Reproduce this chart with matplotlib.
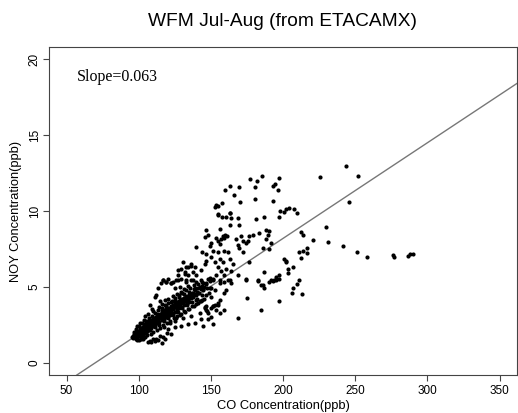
import numpy as np
import matplotlib
matplotlib.use("Agg")
from matplotlib import pyplot as plt

# dense diagonal band (CO ppb, NOY ppb)
core = [
    (95.2, 1.72), (95.8, 1.80), (96.3, 1.62), (96.6, 1.90), (97.0, 1.78), (97.4, 1.68),
    (97.9, 1.95), (98.2, 1.82), (98.6, 2.05), (98.9, 1.66), (99.3, 1.93), (99.7, 2.12),
    (100.1, 1.85), (100.4, 1.74), (100.8, 2.18), (101.0, 2.02), (101.3, 1.88), (101.7, 2.30),
    (102.0, 2.10), (102.4, 1.95), (102.7, 2.38), (103.1, 2.20), (103.3, 1.86), (103.7, 2.45),
    (104.0, 2.12), (104.4, 2.33), (104.6, 2.02), (105.0, 2.55), (105.3, 2.26), (105.7, 2.40),
    (106.0, 2.08), (106.3, 2.62), (106.7, 2.35), (107.0, 2.50), (107.3, 2.18), (107.7, 2.72),
    (108.0, 2.44), (108.4, 2.60), (108.7, 2.30), (109.0, 2.85), (109.4, 2.55), (109.8, 2.70),
    (110.1, 2.42), (110.5, 2.95), (110.8, 2.62), (111.2, 2.80), (111.5, 2.50), (111.9, 3.05),
    (112.2, 2.75), (112.6, 2.92), (112.9, 2.60), (113.3, 3.15), (113.6, 2.85), (114.0, 3.02),
    (114.3, 2.70), (114.7, 3.25), (115.0, 2.95), (115.4, 3.12), (115.8, 2.80), (116.2, 3.35),
    (116.5, 3.05), (116.9, 3.20), (117.3, 2.90), (117.6, 3.45), (118.0, 3.15), (118.4, 3.30),
    (118.7, 3.00), (119.1, 3.55), (119.5, 3.25), (119.9, 3.40), (120.2, 3.08), (120.6, 3.62),
    (121.0, 3.35), (121.3, 3.50), (121.7, 3.18), (122.1, 3.72), (122.5, 3.45), (122.8, 3.60),
    (123.2, 3.28), (123.6, 3.82), (124.0, 3.55), (124.4, 3.70), (124.8, 3.38), (125.2, 3.95),
    (125.6, 3.65), (126.0, 3.80), (126.4, 3.50), (126.8, 4.02), (127.2, 3.75), (127.6, 3.92),
    (128.0, 3.60), (128.4, 4.12), (128.8, 3.85), (129.2, 4.00), (129.6, 3.70), (130.0, 4.22),
    (130.4, 3.95), (130.9, 4.10), (131.3, 3.80), (131.7, 4.30), (132.2, 4.05), (132.6, 4.20),
    (133.1, 3.92), (133.5, 4.40), (134.0, 4.15), (134.5, 4.30), (135.0, 4.02), (135.5, 4.50),
    (136.0, 4.25), (136.6, 4.40), (137.2, 4.62), (137.8, 4.35), (138.5, 4.55), (139.1, 4.80),
    (139.8, 4.48), (140.5, 4.70), (141.2, 4.95), (142.0, 4.62), (142.8, 4.85), (143.6, 5.08),
    (144.5, 4.78), (145.4, 5.00), (146.3, 5.20), (147.2, 4.92),
    (96.9, 2.02), (98.1, 1.58), (99.5, 1.75), (100.9, 1.95), (102.2, 2.22), (103.5, 2.05),
    (104.8, 2.40), (106.1, 2.22), (107.5, 2.42), (108.9, 2.55), (110.3, 2.72), (111.6, 2.88),
    (113.0, 2.98), (114.4, 3.10), (115.9, 3.00), (117.1, 3.28), (118.6, 3.40), (120.0, 3.50),
    (121.5, 3.60), (123.0, 3.65), (124.6, 3.80), (126.2, 3.88), (127.9, 4.05), (129.5, 4.10),
    (131.1, 4.25), (132.8, 4.35), (134.6, 4.45),
]

# looser points that widen the band
spread = [
    (97.8, 2.25), (99.1, 1.48), (100.3, 2.42), (101.6, 1.60), (102.5, 2.62), (103.8, 1.72),
    (105.2, 2.78), (105.9, 1.85), (107.1, 2.95), (108.2, 1.90), (109.3, 3.10), (110.0, 2.05),
    (111.4, 3.28), (112.5, 2.15), (113.6, 3.45), (114.9, 2.30), (116.0, 3.62), (117.0, 2.48),
    (118.2, 3.78), (119.3, 2.62), (120.4, 3.95), (121.6, 2.78), (122.9, 4.10), (124.1, 2.95),
    (125.4, 4.28), (126.6, 3.10), (127.8, 4.45), (129.0, 3.25), (130.3, 4.60), (131.5, 3.42),
    (132.8, 4.78), (134.2, 3.58), (135.7, 4.92), (137.0, 3.72), (138.3, 5.10), (139.5, 3.90),
    (141.0, 5.22), (142.4, 4.05), (144.0, 5.35), (145.2, 4.20), (146.8, 4.45), (148.5, 4.60),
    (150.0, 4.95), (149.5, 5.60), (102.0, 1.78), (104.9, 1.95), (108.0, 2.15), (111.0, 2.35),
    (113.9, 2.52), (117.3, 2.75), (120.1, 2.95), (123.4, 3.15), (126.9, 3.38), (130.2, 3.60),
    (133.6, 3.80), (136.9, 4.00), (140.4, 4.22), (143.7, 4.45), (100.6, 2.28), (103.6, 2.55),
    (106.8, 2.82), (109.6, 2.98), (112.8, 3.25), (116.0, 3.50), (119.0, 3.72), (122.2, 3.98),
    (125.0, 4.15), (128.1, 4.35), (131.4, 4.55), (134.8, 4.70), (138.2, 4.88),
]

# scatter just above and below the band
around = [
    (99.0, 2.45), (101.2, 2.65), (103.9, 2.85), (104.1, 3.08), (107.6, 3.83), (109.9, 3.40),
    (111.0, 4.37), (112.2, 4.48), (118.0, 4.15), (106.5, 3.20), (109.0, 3.55), (113.8, 3.70),
    (116.0, 3.90), (120.5, 4.20), (123.5, 4.40), (126.5, 4.55), (129.0, 4.70), (131.5, 4.85),
    (134.0, 5.05), (114.5, 4.05),
    (100.5, 1.50), (102.8, 1.55), (104.3, 1.68), (106.2, 1.38), (107.6, 1.47), (108.8, 1.35),
    (110.2, 1.60), (111.5, 1.42), (112.2, 1.57), (113.1, 1.48), (114.6, 1.80), (116.3, 1.30),
    (116.8, 1.68), (118.0, 1.55), (119.5, 1.95), (122.6, 1.90), (120.3, 2.22), (124.9, 2.33),
    (129.5, 2.44), (134.1, 2.54), (138.7, 2.65), (143.3, 2.87), (147.9, 3.30), (124.9, 2.76),
    (130.6, 2.97), (136.4, 3.08), (142.2, 3.30), (146.8, 3.51), (151.4, 3.73), (154.8, 3.83),
    (151.4, 2.54), (144.5, 2.44), (117.5, 2.35), (121.5, 2.60), (126.0, 2.95), (128.5, 3.15),
    (132.0, 3.35), (135.0, 3.55), (138.0, 3.75), (141.0, 3.95), (144.0, 4.15),
]

# thin thread rising from the top of the band
thread = [
    (113.4, 4.91), (115.7, 5.23), (116.8, 5.45), (120.3, 5.55), (123.7, 5.34), (126.0, 5.45),
    (129.5, 5.55), (131.8, 5.88), (127.2, 6.09), (132.9, 6.30), (136.4, 6.41),
    (119.0, 5.33), (122.6, 5.23), (133.0, 5.34), (136.4, 5.44), (139.9, 5.34), (144.5, 5.23),
    (124.9, 4.91), (128.3, 5.01), (138.7, 4.91), (142.2, 5.01), (137.6, 4.58), (141.0, 4.58),
    (139.9, 4.15), (143.3, 4.05), (145.6, 3.62), (147.0, 3.40),
]

# lower branch and points right of the band
lower = [
    (147.9, 2.86), (150.2, 3.01), (156.0, 3.29), (159.4, 3.51), (153.7, 3.51),
    (150.2, 3.62), (151.4, 3.72), (152.5, 3.83), (154.8, 3.94), (156.0, 4.15), (160.6, 4.80),
    (159.4, 4.58), (150.2, 4.37), (152.5, 4.80), (149.1, 4.91), (146.8, 5.23), (151.4, 5.44),
    (156.0, 5.23), (159.4, 5.34), (162.9, 5.44), (164.0, 5.23), (168.6, 2.97), (175.1, 4.30),
    (174.4, 5.49), (182.5, 5.38), (185.9, 5.12), (186.6, 4.95), (190.5, 5.34), (194.0, 5.44),
    (197.5, 4.09), (184.8, 3.51), (145.6, 3.66), (146.8, 3.72), (192.9, 5.38), (195.2, 5.44),
    (197.5, 5.55), (184.9, 5.12),
]

# middle of the cloud, NOY 5-10
middle = [
    (146.8, 8.77), (145.6, 8.28), (139.4, 7.63), (143.8, 7.27), (146.8, 7.16), (130.6, 6.62),
    (136.4, 6.52), (138.7, 6.30), (134.1, 6.30), (129.5, 6.19), (131.8, 5.98), (137.6, 5.98),
    (143.3, 6.09), (145.6, 6.52), (127.2, 5.76), (134.1, 5.76), (139.9, 5.76), (116.8, 5.44),
    (119.1, 5.33), (127.2, 5.44), (133.0, 5.44), (137.6, 5.44), (143.3, 5.44), (122.6, 5.23),
    (147.9, 5.55),
    (154.8, 9.74), (157.6, 9.63), (160.6, 9.59), (162.9, 9.85), (163.6, 9.52), (168.6, 9.52),
    (169.8, 9.09), (181.3, 9.46), (187.1, 9.59), (197.5, 9.63), (200.9, 9.95), (162.9, 9.09),
    (156.0, 8.81), (147.9, 8.45), (158.3, 8.38), (159.9, 8.45), (161.3, 8.34), (159.4, 8.23),
    (157.1, 8.17), (153.7, 8.23), (154.8, 8.02), (150.2, 7.91), (149.1, 7.69), (156.0, 7.80),
    (167.5, 8.17), (171.0, 8.34), (172.1, 8.02), (174.4, 7.91), (176.7, 8.38), (179.0, 8.45),
    (183.6, 8.55), (188.2, 8.77), (190.5, 8.66), (189.4, 8.45), (188.2, 8.13), (191.7, 7.91),
    (175.6, 8.02), (151.4, 7.37), (154.8, 7.27), (159.4, 7.37), (161.7, 7.27), (168.6, 7.74),
    (169.8, 7.59), (172.1, 7.27), (146.8, 6.73), (150.2, 6.94), (152.5, 6.62), (156.0, 6.84),
    (158.3, 6.62), (162.9, 6.84), (165.2, 6.51), (154.8, 6.30), (157.1, 6.08), (160.6, 6.19),
    (164.0, 6.08), (159.4, 5.76), (153.7, 5.76), (151.4, 5.55), (149.1, 5.37), (156.0, 5.44),
    (161.7, 5.44), (168.6, 5.76), (185.9, 7.59), (190.5, 7.48), (200.9, 6.84), (202.1, 6.62),
    (176.7, 6.62), (187.1, 5.97), (174.4, 5.55), (182.5, 5.44), (191.7, 5.44), (195.2, 5.65),
    (197.5, 5.76), (203.3, 6.19),
]

# top of the cloud, NOY above 10
high = [
    (177.2, 12.10), (181.8, 11.96), (185.5, 12.28), (197.5, 12.20), (180.2, 11.57),
    (192.9, 11.68), (194.1, 11.79), (196.8, 11.40), (159.5, 11.40), (163.4, 11.68),
    (169.8, 11.60), (165.9, 11.08), (170.3, 10.60), (180.2, 10.82), (192.9, 10.66),
    (153.7, 10.39), (154.8, 10.32), (152.6, 10.28), (157.6, 10.50), (162.9, 9.85),
    (154.8, 9.79), (198.2, 10.00),
]

# sparse points at high CO
far = [
    (225.7, 12.26), (243.6, 12.97), (251.7, 12.30), (245.4, 10.60), (202.1, 10.13),
    (204.4, 10.20), (207.9, 10.13), (209.7, 9.87), (229.5, 8.95), (212.5, 8.62),
    (213.6, 8.45), (220.5, 8.10), (230.9, 7.94), (241.8, 7.70), (251.2, 7.33),
    (258.2, 6.99), (275.9, 7.12), (276.6, 6.99), (286.2, 7.05), (287.9, 7.16),
    (289.7, 7.16), (211.3, 7.27), (213.6, 7.37), (216.7, 7.59), (216.7, 7.23),
    (212.5, 6.90), (201.7, 6.73), (206.7, 6.34), (203.3, 5.94), (210.7, 5.44),
    (209.3, 5.21), (207.2, 4.90), (206.0, 4.63), (212.9, 4.52),
]

slope = 0.063
intercept = -4.4
x_ticks = [50, 100, 150, 200, 250, 300, 350]
y_ticks = [0, 5, 10, 15, 20]

pts = np.array(core + spread + around + thread + lower + middle + high + far)

fig = plt.figure(figsize=(5.18, 4.13), dpi=100)
ax = fig.add_axes([0.095, 0.092, 0.903, 0.794])

ax.scatter(pts[:, 0], pts[:, 1], s=9, color="black", linewidths=0, zorder=3)
ax.axline((0, intercept), slope=slope, color="#777777", lw=1)

ax.set_xlim(38, 362)
ax.set_ylim(-0.8, 20.8)
ax.set_xticks(x_ticks)
ax.set_yticks(y_ticks)
ax.tick_params(direction="out", length=4, width=0.8, color="#444444", labelsize=8.5)
ax.tick_params(axis="x", pad=3)
ax.tick_params(axis="y", pad=2)
for lab in ax.get_yticklabels():
    lab.set_rotation(90)
    lab.set_va("center")
for s in ax.spines.values():
    s.set_color("#444444")
    s.set_linewidth(0.8)

font = "Liberation Sans"
for lab in ax.get_xticklabels() + ax.get_yticklabels():
    lab.set_family(font)

ax.set_xlabel("CO Concentration(ppb)", family=font, fontsize=9.3, labelpad=2)
ax.set_ylabel("NOY Concentration(ppb)", family=font, fontsize=9.3, labelpad=5)
fig.text(0.546, 0.948, "WFM Jul-Aug (from ETACAMX)", family=font, fontsize=13.8,
         ha="center", va="center")
ax.text(57.5, 18.8, "Slope=0.063", family="Liberation Serif", fontsize=11.5,
        va="center")

fig.savefig("out.png", dpi=100)
